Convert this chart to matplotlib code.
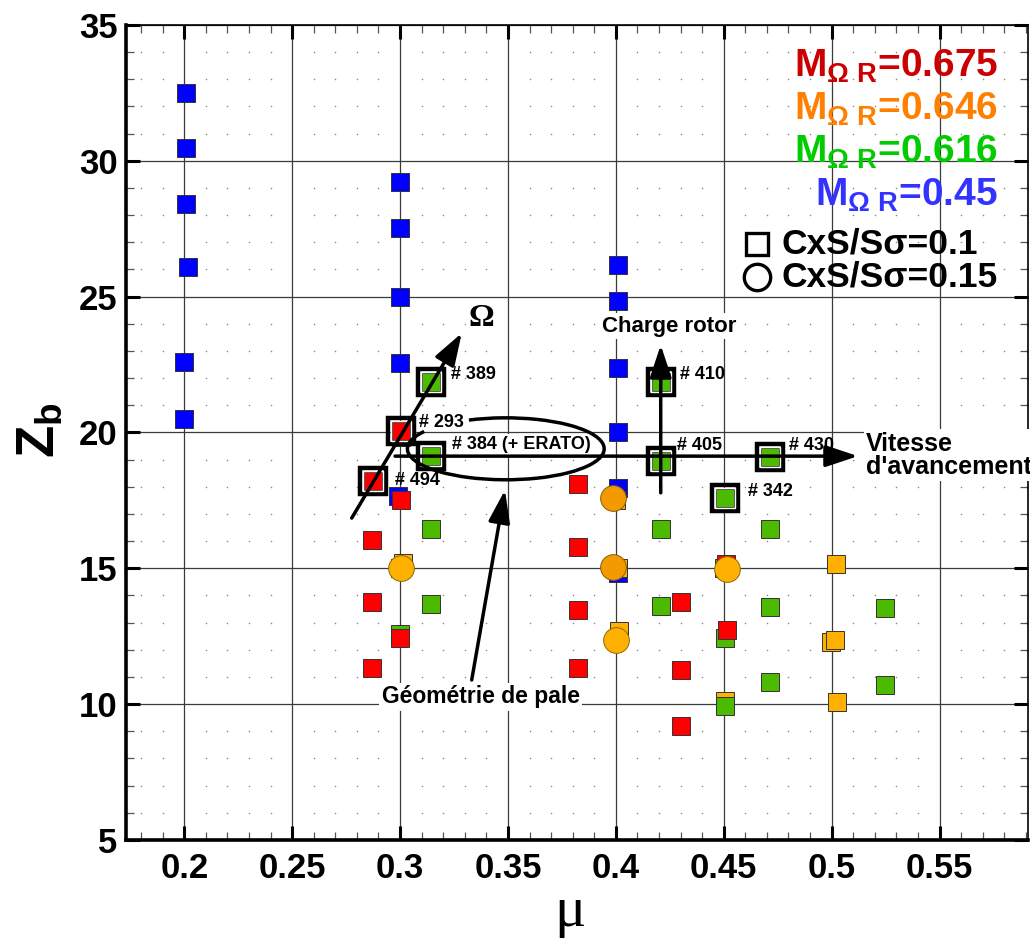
import numpy as np
import matplotlib
matplotlib.use('Agg')
import matplotlib.pyplot as plt
from matplotlib.patches import Arc
from matplotlib.ticker import MultipleLocator

plt.rcParams['font.family'] = ['Liberation Sans', 'DejaVu Sans']
plt.rcParams['font.weight'] = 'bold'
plt.rcParams['mathtext.fontset'] = 'custom'
plt.rcParams['mathtext.rm'] = 'Liberation Sans:bold'
plt.rcParams['mathtext.bf'] = 'Liberation Sans:bold'
plt.rcParams['mathtext.it'] = 'Liberation Sans:bold'

# M_OmegaR = 0.45 (blue squares)
mu_blue = [0.201, 0.201, 0.201, 0.2015, 0.2, 0.2,
           0.3, 0.3, 0.3, 0.3, 0.3, 0.299,
           0.401, 0.401, 0.401, 0.401, 0.401, 0.401]
zb_blue = [32.5, 30.48, 28.42, 26.1, 22.6, 20.5,
           29.23, 27.54, 25.0, 22.57, 20.1, 17.65,
           26.17, 24.85, 22.38, 20.02, 17.96, 14.83]

# M_OmegaR = 0.675 (red squares)
mu_red = [0.2875, 0.3005, 0.3003, 0.287, 0.287, 0.3, 0.287,
          0.3824, 0.3824, 0.3824, 0.3824,
          0.4304, 0.4304, 0.4304, 0.4513, 0.451]
zb_red = [18.2, 20.06, 17.52, 16.05, 13.76, 12.44, 11.33,
          18.1, 15.8, 13.47, 11.33,
          13.76, 11.26, 9.2, 12.73, 15.15]

# M_OmegaR = 0.616 (green squares)
mu_green = [0.3144, 0.3144, 0.3005, 0.3144, 0.3144, 0.3, 0.3,
            0.4208, 0.4208, 0.4208, 0.4208,
            0.4713, 0.4713, 0.4713, 0.4713,
            0.4505, 0.4505, 0.4505, 0.5249, 0.5249, 0.45]
zb_green = [21.87, 19.14, 19.85, 16.45, 13.69, 12.6, 15.0,
            21.87, 18.96, 16.45, 13.6,
            19.1, 16.45, 13.58, 10.82,
            17.59, 9.95, 12.45, 13.55, 10.71, 15.0]

# M_OmegaR = 0.646 (orange), CxS/Ssigma = 0.1 squares
mu_orange_sq = [0.3014, 0.4, 0.401, 0.4015, 0.452, 0.4505,
                0.5022, 0.4998, 0.5015, 0.5025]
zb_orange_sq = [15.2, 17.5, 15.0, 12.7, 17.45, 10.1,
                15.16, 12.3, 12.36, 10.08]

# CxS/Ssigma = 0.15 circles
mu_circ_dark = [0.3988, 0.3988]
zb_circ_dark = [17.6, 15.06]
mu_circ_light = [0.4, 0.4513, 0.3005]
zb_circ_light = [12.36, 14.98, 15.0]

# highlighted test points
hl_mu = [0.3144, 0.3005, 0.3144, 0.2875, 0.4208, 0.4208, 0.4713, 0.4505]
hl_zb = [21.87, 20.06, 19.14, 18.2, 21.87, 18.96, 19.1, 17.59]
hl_labels = ['# 389', '# 293', '# 384 (+ ERATO)', '# 494',
             '# 410', '# 405', '# 430', '# 342']
hl_offsets = [(14, 5), (13, 6), (15, 8), (16, 1),
              (14, 5), (12, 11), (14, 8), (17, 5)]

mach_labels = ['0.675', '0.646', '0.616', '0.45']
mach_colors = ['#CC0000', '#FF8000', '#00CC00', '#3333FF']

fig = plt.figure(figsize=(10.3, 9.4), dpi=100)
ax = fig.add_axes([126 / 1030, 100 / 940, 902 / 1030, 815 / 940])
ax.set_xlim(0.173, 0.591)
ax.set_ylim(5, 35)

ax.xaxis.set_major_locator(MultipleLocator(0.05))
ax.xaxis.set_minor_locator(MultipleLocator(0.01))
ax.yaxis.set_major_locator(MultipleLocator(5))
ax.yaxis.set_minor_locator(MultipleLocator(1))
ax.set_xticks(np.arange(0.2, 0.56, 0.05))
ax.set_xticklabels(['0.2', '0.25', '0.3', '0.35', '0.4', '0.45', '0.5', '0.55'])

ax.grid(which='major', color='#3a3a3a', lw=0.9, zorder=0)
ax.set_axisbelow(True)
gx, gy = np.meshgrid(ax.xaxis.get_minorticklocs(), ax.yaxis.get_minorticklocs())
ax.scatter(gx.ravel(), gy.ravel(), s=1.3, c='#8a8a8a', lw=0, zorder=0.5)

ax.tick_params(which='both', direction='in', top=True, right=True)
ax.tick_params(which='major', length=10, width=2.2, labelsize=25)
ax.tick_params(which='minor', length=6, width=0.9, color='#555555')
ax.tick_params(axis='x', pad=9)
ax.tick_params(axis='y', pad=6)
for lab in ax.get_xticklabels() + ax.get_yticklabels():
    lab.set_fontweight('bold')
for side in ['left', 'bottom']:
    ax.spines[side].set_linewidth(2.6)
for side in ['top', 'right']:
    ax.spines[side].set_linewidth(1.2)

sq = dict(marker='s', ms=13, mec='#333333', mew=0.7, ls='none')
ax.plot(mu_blue, zb_blue, mfc='#0000FF', zorder=3, **sq)
ax.plot(mu_orange_sq, zb_orange_sq, mfc='#FFB000', zorder=3.1, **sq)
ax.plot(mu_green, zb_green, mfc='#4CBB00', zorder=3.2, **sq)
ax.plot(mu_red, zb_red, mfc='#FF0000', zorder=3.3, **sq)
ax.plot(mu_circ_dark, zb_circ_dark, marker='o', ms=18.5, mfc='#F39A00',
        mec='#8a5a00', mew=0.7, ls='none', zorder=3.4)
ax.plot(mu_circ_light, zb_circ_light, marker='o', ms=18.5, mfc='#FFB000',
        mec='#8a6a00', mew=0.7, ls='none', zorder=3.4)

# frames around selected cases
ax.plot(hl_mu, hl_zb, marker='s', ms=18.5, mfc='none', mec='black', mew=3.2,
        ls='none', zorder=5)
ax.plot(hl_mu, hl_zb, marker='s', ms=14.2, mfc='none', mec='white', mew=1,
        ls='none', zorder=5)
for m, z, txt, off in zip(hl_mu, hl_zb, hl_labels, hl_offsets):
    bb = None
    if 'ERATO' in txt:
        bb = dict(boxstyle='square,pad=0.15', fc='white', ec='none')
    ax.annotate(txt, (m, z), xytext=off, textcoords='offset points',
                ha='left', va='center', fontsize=13, fontweight='bold',
                bbox=bb, zorder=6)

arrow = dict(arrowstyle='-|>,head_length=0.9,head_width=0.3', lw=2.5,
             color='black', mutation_scale=22, shrinkA=0, shrinkB=0)
white = dict(boxstyle='square,pad=0.1', fc='white', ec='none')

# Omega arrow
ax.annotate('', xy=(0.3286, 23.66), xytext=(0.2776, 16.85), arrowprops=arrow, zorder=7)
ax.text(0.3378, 24.18, 'Ω', fontsize=23, fontweight='bold', family='Liberation Serif',
        ha='center', va='center', bbox=white, zorder=6)

# advance speed arrow
ax.annotate('', xy=(0.5122, 19.13), xytext=(0.2977, 19.13), arrowprops=arrow, zorder=7)
ax.text(0.516, 19.16, "Vitesse\nd'avancement", fontsize=18, fontweight='bold',
        ha='left', va='center', linespacing=0.95, bbox=white, zorder=6)

# rotor load arrow
ax.annotate('', xy=(0.4208, 23.22), xytext=(0.4208, 17.78), arrowprops=arrow, zorder=7)
ax.text(0.4245, 23.92, 'Charge rotor', fontsize=16, fontweight='bold',
        ha='center', va='center', bbox=white, zorder=6)

# blade geometry
ax.annotate('', xy=(0.3486, 17.88), xytext=(0.3332, 10.89), arrowprops=arrow, zorder=7)
ax.text(0.3373, 10.27, 'Géométrie de pale', fontsize=16.5, fontweight='bold',
        ha='center', va='center', bbox=white, zorder=6)


def arc_angle(t, w, h):
    t = np.deg2rad(t)
    return np.rad2deg(np.arctan2(np.sin(t), (w / h) * np.cos(t)))


ew, eh = 0.0912, 2.28
ax.add_patch(Arc((0.349, 19.4), ew, eh, theta1=arc_angle(146, ew, eh),
                 theta2=arc_angle(112, ew, eh) + 360, lw=2.5, color='black', zorder=6))

# legend texts
for i, (lab, col) in enumerate(zip(mach_labels, mach_colors)):
    ax.text(0.9667, 0.936 - i * 0.0525, r'M$_{\Omega\ R}$=' + lab,
            transform=ax.transAxes, color=col, fontsize=28, fontweight='bold',
            ha='right', va='baseline', zorder=8)

ax.plot([0.6996], [0.7313], marker='s', ms=16, mfc='none', mec='black', mew=2.4,
        transform=ax.transAxes, clip_on=False, zorder=8)
ax.plot([0.6996], [0.6908], marker='o', ms=19, mfc='none', mec='black', mew=2.4,
        transform=ax.transAxes, clip_on=False, zorder=8)
ax.text(0.727, 0.7313, 'CxS/Sσ=0.1', transform=ax.transAxes, fontsize=25.5,
        fontweight='bold', ha='left', va='center', zorder=8)
ax.text(0.727, 0.6908, 'CxS/Sσ=0.15', transform=ax.transAxes, fontsize=25.5,
        fontweight='bold', ha='left', va='center', zorder=8)

fig.text(570 / 1030, 1 - 912 / 940, 'μ', fontsize=42, fontweight='normal',
         family='Liberation Serif', ha='center', va='center')
fig.text(40 / 1030, 1 - 430 / 940, r'Z$_{\mathbf{b}}$', fontsize=38, fontweight='bold',
         rotation=90, ha='center', va='center')

fig.savefig('out.png', dpi=100)
